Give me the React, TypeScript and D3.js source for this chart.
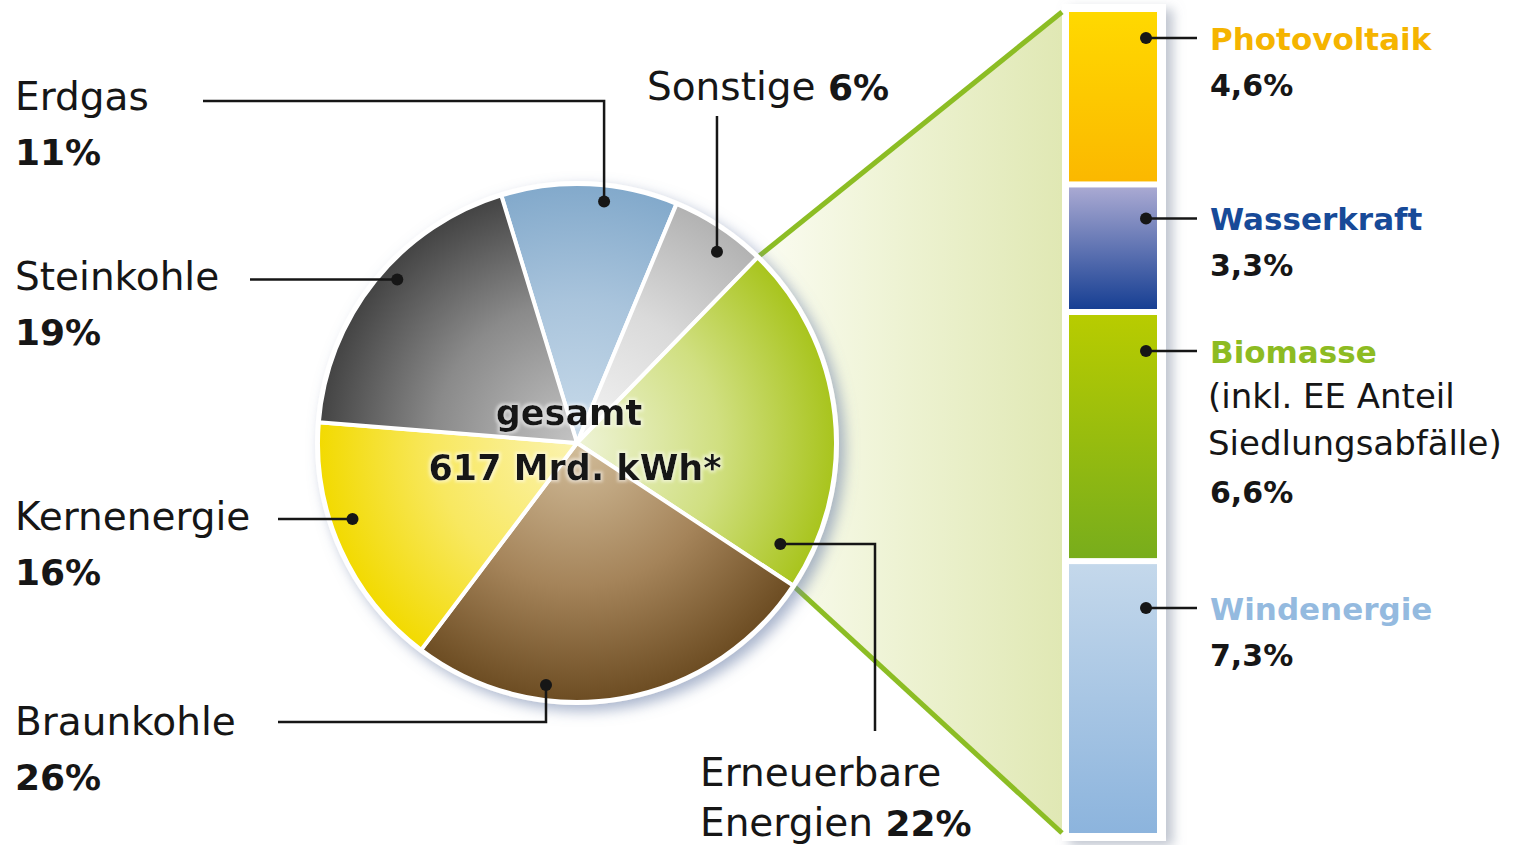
import React from "react";
import * as d3 from "d3";

// ---------- data ----------
const categories = ["Erdgas", "Sonstige", "Erneuerbare Energien", "Braunkohle", "Kernenergie", "Steinkohle"];
const shares = [11, 6, 22, 26, 16, 19];
const shareLabels = ["11%", "6%", "22%", "26%", "16%", "19%"];

const eeCategories = ["Photovoltaik", "Wasserkraft", "Biomasse", "Windenergie"];
const eeShares = [4.6, 3.3, 6.6, 7.3];
const eeLabels = ["4,6%", "3,3%", "6,6%", "7,3%"];
const eeSubLines = [[], [], ["(inkl. EE Anteil", "Siedlungsabfälle)"], []];

const totalLines = ["gesamt", "617 Mrd. kWh*"];

// ---------- styling ----------
const W = 1513, H = 845;
const cx = 577, cy = 443, R = 259;
const startDeg = -17;
const FONT = "'DejaVu Sans', sans-serif";
const INK = "#161616";

const sliceColors: Record<string, [string, string, string]> = {
  "Erdgas": ["#c9dbea", "#a9c4dc", "#82a9cb"],
  "Sonstige": ["#f5f5f5", "#dadada", "#b2b2b2"],
  "Erneuerbare Energien": ["#eef3d6", "#d0df80", "#a8c41c"],
  "Braunkohle": ["#d2bd9a", "#a5845a", "#6c4c22"],
  "Kernenergie": ["#fbf3b0", "#f8e860", "#f2da00"],
  "Steinkohle": ["#c4c4c4", "#8a8a8a", "#434343"],
};
const eeColors: [string, string][] = [
  ["#ffd900", "#fbb800"],
  ["#a9a9d2", "#173f93"],
  ["#b8cc00", "#78ad1c"],
  ["#c4d8eb", "#8cb4dd"],
];
const eeTextColors = ["#f5b400", "#174a98", "#8dbb22", "#94badf"];

// label layout: dot polar position (deg from 12 o'clock, radius), text anchor
type Annot = {
  idx: number; dotDeg: number; dotR: number;
  kind: "elbowDown" | "horiz" | "elbowUp" | "vert" | "ee";
  tx: number; ty: number; lineX?: number; lineY?: number;
};
const annots: Annot[] = [
  { idx: 0, dotDeg: 6.4, dotR: 243, kind: "elbowDown", tx: 15, ty: 110, lineX: 203, lineY: 101 },
  { idx: 5, dotDeg: 312.3, dotR: 243, kind: "horiz", tx: 15, ty: 290, lineX: 250 },
  { idx: 4, dotDeg: 251.3, dotR: 237, kind: "horiz", tx: 15, ty: 530, lineX: 278 },
  { idx: 3, dotDeg: 187.3, dotR: 244, kind: "elbowUp", tx: 15, ty: 735, lineX: 278, lineY: 722 },
  { idx: 1, dotDeg: 36.2, dotR: 237, kind: "vert", tx: 647, ty: 100, lineY: 116 },
  { idx: 2, dotDeg: 116.4, dotR: 227, kind: "ee", tx: 700, ty: 786, lineX: 875, lineY: 731 },
];
const eeDotOffsets = [26, 31, 36, 44];

function polar(deg: number, r: number): [number, number] {
  const a = (deg * Math.PI) / 180;
  return [cx + r * Math.sin(a), cy - r * Math.cos(a)];
}

export default function App() {
  const pie = d3
    .pie<number>()
    .sort(null)
    .value((d) => d)
    .startAngle((startDeg * Math.PI) / 180)
    .endAngle((startDeg * Math.PI) / 180 + 2 * Math.PI);
  const arcs = pie(shares);
  const arcGen = d3.arc<d3.PieArcDatum<number>>().innerRadius(0).outerRadius(R);

  const eeArc = arcs[2];
  const p1: [number, number] = [cx + R * Math.sin(eeArc.startAngle), cy - R * Math.cos(eeArc.startAngle)];
  const p2: [number, number] = [cx + R * Math.sin(eeArc.endAngle), cy - R * Math.cos(eeArc.endAngle)];

  // stacked bar
  const barTop = 12, barBottom = 833, gap = 6;
  const barX0 = 1069, barX1 = 1157;
  const eeTotal = d3.sum(eeShares);
  const yScale = d3
    .scaleLinear()
    .domain([0, eeTotal])
    .range([0, barBottom - barTop - gap * (eeShares.length - 1)]);
  let cum = 0;
  const segs = eeShares.map((v, i) => {
    const y0 = barTop + yScale(cum) + i * gap;
    const y1 = barTop + yScale(cum + v) + i * gap;
    cum += v;
    return { y0, y1, i };
  });
  const trapX = 1062;

  return (
    <svg
      width={W}
      height={H}
      style={{ position: "absolute", left: 0, top: 0, background: "#fff" }}
      fontFamily={FONT}
    >
      <defs>
        {arcs.map((a, i) => {
          const c = sliceColors[categories[i]];
          return (
            <radialGradient key={i} id={`sg${i}`} gradientUnits="userSpaceOnUse" cx={0} cy={0} r={R}>
              <stop offset="0%" stopColor={c[0]} />
              <stop offset="55%" stopColor={c[1]} />
              <stop offset="100%" stopColor={c[2]} />
            </radialGradient>
          );
        })}
        {eeColors.map((c, i) => (
          <linearGradient key={i} id={`bg${i}`} x1="0" y1="0" x2="0" y2="1">
            <stop offset="0%" stopColor={c[0]} />
            <stop offset="100%" stopColor={c[1]} />
          </linearGradient>
        ))}
        <linearGradient id="trap" gradientUnits="userSpaceOnUse" x1={p1[0]} y1="0" x2={trapX} y2="0">
          <stop offset="0%" stopColor="#fbfcf2" />
          <stop offset="45%" stopColor="#eef3d4" />
          <stop offset="100%" stopColor="#e0e8b4" />
        </linearGradient>
        <filter id="pieShadow" x="-20%" y="-20%" width="140%" height="140%">
          <feDropShadow dx="6" dy="6" stdDeviation="7" floodColor="#6f83aa" floodOpacity="0.6" />
        </filter>
        <filter id="barShadow" x="-30%" y="-5%" width="160%" height="110%">
          <feDropShadow dx="7" dy="5" stdDeviation="6" floodColor="#8a94a8" floodOpacity="0.55" />
        </filter>
        <filter id="halo" x="-10%" y="-30%" width="120%" height="160%">
          <feMorphology in="SourceAlpha" operator="dilate" radius="1.5" result="d" />
          <feGaussianBlur in="d" stdDeviation="1.5" result="b" />
          <feFlood floodColor="#ffffff" floodOpacity="0.5" />
          <feComposite in2="b" operator="in" result="w" />
          <feMerge>
            <feMergeNode in="w" />
            <feMergeNode in="SourceGraphic" />
          </feMerge>
        </filter>
      </defs>

      {/* bar column */}
      <rect x={trapX} y={4} width={104} height={837} fill="#fff" filter="url(#barShadow)" />

      {/* connecting trapezoid */}
      <polygon
        points={[p1, [trapX, barTop], [trapX, barBottom], p2].map((p) => p.join(",")).join(" ")}
        fill="url(#trap)"
      />
      <line x1={p1[0]} y1={p1[1]} x2={trapX} y2={barTop} stroke="#8cbd24" strokeWidth={5} />
      <line x1={p2[0]} y1={p2[1]} x2={trapX} y2={barBottom} stroke="#8cbd24" strokeWidth={5} />

      {/* pie */}
      <circle cx={cx} cy={cy} r={R + 3} fill="#fff" filter="url(#pieShadow)" />
      <g transform={`translate(${cx},${cy})`}>
        {arcs.map((a, i) => (
          <path
            key={i}
            d={arcGen(a) || ""}
            fill={`url(#sg${i})`}
            stroke="#fff"
            strokeWidth={4}
            strokeLinejoin="round"
          />
        ))}
      </g>

      {/* stacked segments */}
      {segs.map((s) => (
        <rect key={s.i} x={barX0} y={s.y0} width={barX1 - barX0} height={s.y1 - s.y0} fill={`url(#bg${s.i})`} />
      ))}

      {/* center total */}
      <g filter="url(#halo)" fontWeight="bold" fill={INK} textAnchor="middle">
        <text x={cx - 8} y={425} fontSize={35}>{totalLines[0]}</text>
        <text x={cx - 2} y={480} fontSize={35}>{totalLines[1]}</text>
      </g>

      {/* pie annotations */}
      {annots.map((an) => {
        const [dx, dy] = polar(an.dotDeg, an.dotR);
        let d = "";
        if (an.kind === "elbowDown" || an.kind === "elbowUp") d = `M${an.lineX},${an.lineY}H${dx}V${dy}`;
        else if (an.kind === "horiz") d = `M${an.lineX},${dy}H${dx}`;
        else if (an.kind === "vert") d = `M${dx},${an.lineY}V${dy}`;
        else d = `M${dx},${dy}H${an.lineX}V${an.lineY}`;
        const name = categories[an.idx];
        let textEl;
        if (an.kind === "vert") {
          textEl = (
            <text x={an.tx} y={an.ty} fontSize={39} fill={INK}>
              {name} <tspan fontWeight="bold" fontSize={36}>{shareLabels[an.idx]}</tspan>
            </text>
          );
        } else if (an.kind === "ee") {
          const parts = name.split(" ");
          textEl = (
            <g fill={INK}>
              <text x={an.tx} y={an.ty} fontSize={39}>{parts[0]}</text>
              <text x={an.tx} y={an.ty + 50} fontSize={39}>
                {parts[1]} <tspan fontWeight="bold" fontSize={36}>{shareLabels[an.idx]}</tspan>
              </text>
            </g>
          );
        } else {
          textEl = (
            <g fill={INK}>
              <text x={an.tx} y={an.ty} fontSize={39}>{name}</text>
              <text x={an.tx} y={an.ty + 55} fontSize={36} fontWeight="bold">{shareLabels[an.idx]}</text>
            </g>
          );
        }
        return (
          <g key={an.idx}>
            <path d={d} fill="none" stroke={INK} strokeWidth={2.5} />
            <circle cx={dx} cy={dy} r={6} fill={INK} />
            {textEl}
          </g>
        );
      })}

      {/* EE breakdown labels */}
      {segs.map((s) => {
        const dotY = s.y0 + eeDotOffsets[s.i];
        const nameY = dotY + 12;
        const subs = eeSubLines[s.i];
        return (
          <g key={s.i}>
            <line x1={1146} y1={dotY} x2={1197} y2={dotY} stroke={INK} strokeWidth={2.5} />
            <circle cx={1146} cy={dotY} r={6} fill={INK} />
            <text x={1210} y={nameY} fontSize={31} fontWeight="bold" fill={eeTextColors[s.i]}>
              {eeCategories[s.i]}
            </text>
            {subs.map((t, k) => (
              <text key={k} x={1208} y={nameY + 45 + k * 47} fontSize={34} fill={INK}>
                {t}
              </text>
            ))}
            <text x={1210} y={nameY + 46 + subs.length * 47} fontSize={30} fontWeight="bold" fill={INK}>
              {eeLabels[s.i]}
            </text>
          </g>
        );
      })}
    </svg>
  );
}
